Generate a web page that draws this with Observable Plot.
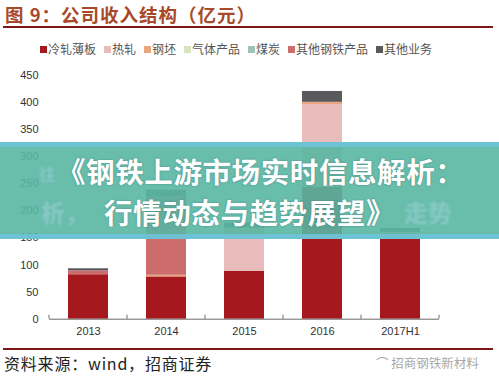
<!DOCTYPE html>
<html>
<head>
<meta charset="utf-8">
<script src="https://cdn.jsdelivr.net/npm/d3@7"></script>
<script src="https://cdn.jsdelivr.net/npm/@observablehq/plot@0.6"></script>
<style>
  html, body { margin: 0; padding: 0; background: #fff; }
  #wrap { position: relative; width: 499px; height: 383px; overflow: hidden; background: #fff;
          font-family: "Noto Sans CJK SC", "Liberation Sans", sans-serif; }
  .abs { position: absolute; }
  #title { top: 1px; left: 5px; font-size: 18.5px; font-weight: 700; color: #a8492a; line-height: 26px; white-space: nowrap; letter-spacing: 1px; }
  #rule1 { top: 26px; left: 3px; width: 490px; height: 2px; background: #7d1616; }
  #legend { top: 41px; left: 40px; display: flex; gap: 8px; font-size: 12px; color: #555; line-height: 15px; white-space: nowrap; }
  #legend span.sw { display: inline-block; width: 7px; height: 7px; margin-right: 1px; vertical-align: 1px; }
  #chart { top: 60px; left: 0; }
  #banner { top: 142px; left: 0; width: 499px; height: 97px; background: rgba(88, 182, 162, 0.9);
            border-top: 5px solid rgba(110, 194, 214, 0.95); border-bottom: 5px solid rgba(110, 194, 214, 0.95); box-sizing: border-box; }
  .ghost { color: rgba(170, 215, 225, 0.5); font-size: 24px; line-height: 30px; font-weight: 700; filter: blur(1.2px); white-space: nowrap; }
  .btxt { color: #fff; font-size: 28.5px; line-height: 34px; font-weight: 700; white-space: nowrap; text-shadow: 0 0 2px rgba(40,90,110,0.5); letter-spacing: 0.6px; }
  #rule2 { top: 348px; left: 3px; width: 490px; height: 2px; background: #7d1616; }
  #source { top: 352px; left: 4px; font-size: 16px; color: #222; line-height: 22px; white-space: nowrap; letter-spacing: 0.8px; }
  #wm { top: 355px; left: 376px; font-size: 12.5px; color: #a8a8a8; line-height: 16px; white-space: nowrap; }
</style>
</head>
<body>
<div id="wrap">
  <div id="title" class="abs"></div>
  <div id="rule1" class="abs"></div>
  <div id="legend" class="abs"></div>
  <div id="chart" class="abs"></div>
  <div id="banner" class="abs"></div>
  <div class="abs ghost" id="g1" style="top:162px;left:39px;font-size:16.5px;line-height:24px;"></div>
  <div class="abs ghost" id="g2" style="top:197px;left:41px;"></div>
  <div class="abs ghost" id="g3" style="top:197px;left:404px;"></div>
  <div class="abs btxt" id="b1" style="top:154px;left:57px;"></div>
  <div class="abs btxt" id="b2" style="top:195px;left:104px;"></div>
  <div id="rule2" class="abs"></div>
  <div id="source" class="abs"></div>
  <div id="wm" class="abs"></div>
</div>
<script>
// ---- text ----
const titleText = "图 9：公司收入结构（亿元）";
const bannerLine1 = "《钢铁上游市场实时信息解析：";
const bannerLine2 = "行情动态与趋势展望》";
const ghostTexts = ["往", "析，", "走势"];
const sourceText = "资料来源：wind，招商证券";
const watermarkText = "⌒ 招商钢铁新材料";

// ---- data ----
const years = ["2013", "2014", "2015", "2016", "2017H1"];
const series = ["冷轧薄板", "热轧", "钢坯", "气体产品", "煤炭", "其他钢铁产品", "其他业务"];
const colors = ["#a5191e", "#e8bcbb", "#eaa67c", "#d8e4bc", "#9fc3b9", "#cd6c6c", "#5a5a5e"];
const yTicks = [0, 50, 100, 150, 200, 250, 300, 350, 400, 450];

const coldRolled = [82, 78, 88, 243, 155];   // 冷轧薄板
const hotRolled  = [0, 0, 80, 153, 5];       // 热轧
const billet     = [0, 3, 0, 4, 0];          // 钢坯
const gasProd    = [0, 0, 0, 0, 0];          // 气体产品
const coal       = [0, 0, 0, 0, 0];          // 煤炭
const otherSteel = [7, 145, 0, 0, 0];        // 其他钢铁产品
const otherBiz   = [4, 12, 9, 20, 7];        // 其他业务

const seriesValues = [coldRolled, hotRolled, billet, gasProd, coal, otherSteel, otherBiz];
const data = [];
series.forEach((s, i) => years.forEach((y, j) => data.push({year: y, series: s, value: seriesValues[i][j]})));

// ---- html text ----
document.getElementById("title").textContent = titleText;
document.getElementById("b1").textContent = bannerLine1;
document.getElementById("b2").textContent = bannerLine2;
document.getElementById("g1").textContent = ghostTexts[0];
document.getElementById("g2").textContent = ghostTexts[1];
document.getElementById("g3").textContent = ghostTexts[2];
document.getElementById("source").textContent = sourceText;
document.getElementById("wm").textContent = watermarkText;

const legend = document.getElementById("legend");
series.forEach((s, i) => {
  const item = document.createElement("div");
  const sw = document.createElement("span");
  sw.className = "sw";
  sw.style.background = colors[i];
  item.appendChild(sw);
  item.appendChild(document.createTextNode(s));
  legend.appendChild(item);
});

// ---- plot ----
const plot = Plot.plot({
  width: 499,
  height: 285,
  marginTop: 14.7,
  marginBottom: 26.3,
  marginLeft: 49,
  marginRight: 60,
  style: {fontFamily: "'Liberation Sans', Arial, sans-serif", fontSize: "11px", color: "#333", background: "transparent", overflow: "visible"},
  x: {domain: years, paddingInner: 0.487, paddingOuter: 0.2435, label: null, tickSize: 0, tickPadding: 8},
  y: {domain: [0, 450], ticks: yTicks, label: null, tickSize: 0, tickPadding: 11},
  color: {domain: series, range: colors},
  marks: [
    Plot.barY(data, {x: "year", y: "value", fill: "series", order: series}),
    Plot.ruleY([0], {stroke: "#6b6b6b", strokeWidth: 1})
  ]
});
document.getElementById("chart").appendChild(plot);

// boundary tick marks on the category axis, derived from the band scale
const xs = plot.scale("x");
const ys = plot.scale("y");
const y0 = ys.apply(0);
const gap = (xs.step - xs.bandwidth) / 2;
const bounds = years.map(d => xs.apply(d) - gap);
bounds.push(xs.apply(years[years.length - 1]) + xs.bandwidth + gap);
const g = d3.select(plot).append("g").attr("stroke", "#6b6b6b");
bounds.forEach(b => g.append("line").attr("x1", b).attr("x2", b).attr("y1", y0 - 4).attr("y2", y0));
</script>
</body>
</html>
